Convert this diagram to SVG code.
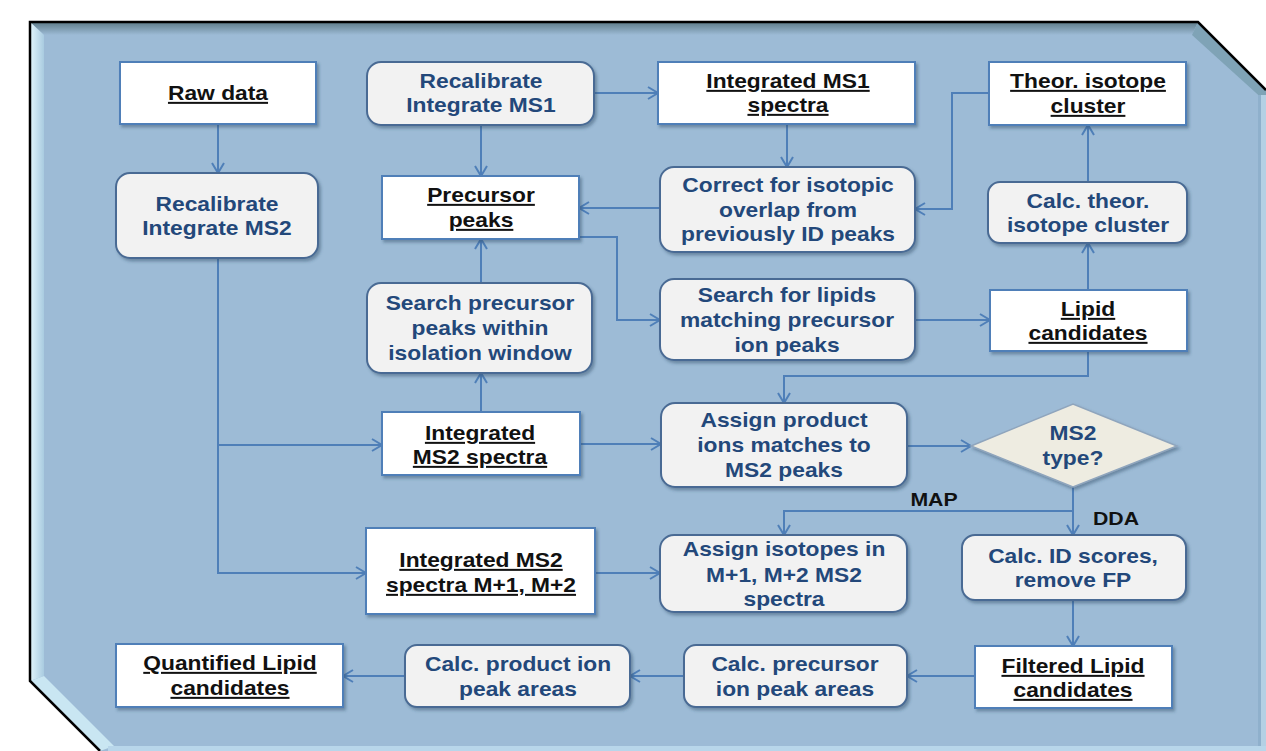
<svg xmlns="http://www.w3.org/2000/svg" width="1266" height="751" viewBox="0 0 1266 751">
<style>
.t{font-family:"Liberation Sans",Arial,sans-serif;font-weight:bold;font-size:20px;text-anchor:middle}
.b{fill:#23487a}
.k{fill:#111}
.u{text-decoration:underline}
.rr{fill:#f2f2f2;stroke:#4a6b94;stroke-width:2}
.wr{fill:#ffffff;stroke:#4f7fb8;stroke-width:2}
.c{fill:none;stroke:#4f7fb8;stroke-width:2}
</style>
<defs>
<marker id="ah" markerUnits="userSpaceOnUse" markerWidth="14" markerHeight="14" refX="11" refY="7" orient="auto">
<path d="M1,1 L11,7 L1,13" fill="none" stroke="#4f7fb8" stroke-width="2"/>
</marker>
<filter id="sh" x="-10%" y="-10%" width="125%" height="130%">
<feDropShadow dx="2" dy="2.5" stdDeviation="1.5" flood-color="#2e4a66" flood-opacity="0.45"/>
</filter>
<linearGradient id="gt" x1="0" y1="0" x2="0" y2="1">
<stop offset="0" stop-color="#5d7b88"/><stop offset="1" stop-color="#9dbbd6"/>
</linearGradient>
<linearGradient id="gl" x1="0" y1="0" x2="1" y2="0">
<stop offset="0" stop-color="#e2f6fc"/><stop offset="1" stop-color="#a9cbe0"/>
</linearGradient>
</defs>
<rect width="1266" height="751" fill="#ffffff"/>
<g id="panel">
<path d="M30,22 L1198,22 L1266,90 L1266,751 L100,751 L30,681 Z" fill="#9dbbd6"/>
<path d="M30,22 L1198,22 L1192,35 L44,35 Z" fill="url(#gt)"/>
<path d="M1198,22 L1266,90 L1266,102 L1192,35 Z" fill="#7fa3b6"/>
<path d="M30,22 L44,35 L44,676 L30,681 Z" fill="url(#gl)"/>
<path d="M30,681 L44,676 L114,746 L100,751 Z" fill="#c9e6f2"/>
<rect x="1258" y="95" width="3" height="656" fill="#8fb0cc"/>
<rect x="1261" y="95" width="5" height="656" fill="#b4d0e4"/>
<rect x="108" y="746" width="1158" height="5" fill="#b8d6ea"/>
<path d="M1266,90 L1198,22 L30,22 L30,681 L100,751" fill="none" stroke="#000" stroke-width="2.5"/>
</g>
<g id="connectors">
<path class="c" d="M218,124 V173" marker-end="url(#ah)"/>
<path class="c" d="M218,258 V573 H366" marker-end="url(#ah)"/>
<path class="c" d="M218,445 H382" marker-end="url(#ah)"/>
<path class="c" d="M594,93 H658" marker-end="url(#ah)"/>
<path class="c" d="M481,125 V176" marker-end="url(#ah)"/>
<path class="c" d="M787,124 V167" marker-end="url(#ah)"/>
<path class="c" d="M989,93 H952 V209 H915" marker-end="url(#ah)"/>
<path class="c" d="M660,208 H579" marker-end="url(#ah)"/>
<path class="c" d="M579,237 H617 V320 H660" marker-end="url(#ah)"/>
<path class="c" d="M481,283 V239" marker-end="url(#ah)"/>
<path class="c" d="M481,412 V373" marker-end="url(#ah)"/>
<path class="c" d="M915,320 H990" marker-end="url(#ah)"/>
<path class="c" d="M1088,351 V376 H784 V403" marker-end="url(#ah)"/>
<path class="c" d="M1088,290 V243" marker-end="url(#ah)"/>
<path class="c" d="M1088,182 V125" marker-end="url(#ah)"/>
<path class="c" d="M580,444 H661" marker-end="url(#ah)"/>
<path class="c" d="M907,446 H971" marker-end="url(#ah)"/>
<path class="c" d="M1073,487 V535" marker-end="url(#ah)"/>
<path class="c" d="M1073,511 H784 V535" marker-end="url(#ah)"/>
<path class="c" d="M595,573 H660" marker-end="url(#ah)"/>
<path class="c" d="M1073,600 V646" marker-end="url(#ah)"/>
<path class="c" d="M975,676 H907" marker-end="url(#ah)"/>
<path class="c" d="M684,676 H630" marker-end="url(#ah)"/>
<path class="c" d="M405,676 H343" marker-end="url(#ah)"/>
<text class="t k" transform="translate(934,506) scale(1.12,1)" style="font-size:19px">MAP</text>
<text class="t k" transform="translate(1116,525) scale(1.12,1)" style="font-size:19px">DDA</text>
</g>
<g id="raw-data">
<rect class="wr" x="120" y="62" width="196" height="62" filter="url(#sh)"/>
<text class="t k u" transform="translate(218,100) scale(1.14,1)">Raw data</text>
</g>
<g id="recalibrate-ms2">
<rect class="rr" x="116" y="173" width="202" height="85" rx="14" filter="url(#sh)"/>
<text class="t b" transform="translate(217,211) scale(1.14,1)">Recalibrate</text>
<text class="t b" transform="translate(217,235) scale(1.14,1)">Integrate MS2</text>
</g>
<g id="recalibrate-ms1">
<rect class="rr" x="367" y="62" width="227" height="63" rx="14" filter="url(#sh)"/>
<text class="t b" transform="translate(481,88) scale(1.14,1)">Recalibrate</text>
<text class="t b" transform="translate(481,112) scale(1.14,1)">Integrate MS1</text>
</g>
<g id="integrated-ms1">
<rect class="wr" x="658" y="62" width="257" height="62" filter="url(#sh)"/>
<text class="t k u" transform="translate(788,88) scale(1.14,1)">Integrated MS1</text>
<text class="t k u" transform="translate(788,112) scale(1.14,1)">spectra</text>
</g>
<g id="theor-isotope">
<rect class="wr" x="989" y="62" width="197" height="63" filter="url(#sh)"/>
<text class="t k u" transform="translate(1088,88) scale(1.14,1)">Theor. isotope</text>
<text class="t k u" transform="translate(1088,113) scale(1.14,1)">cluster</text>
</g>
<g id="precursor-peaks">
<rect class="wr" x="382" y="176" width="197" height="63" filter="url(#sh)"/>
<text class="t k u" transform="translate(481,202) scale(1.14,1)">Precursor</text>
<text class="t k u" transform="translate(481,227) scale(1.14,1)">peaks</text>
</g>
<g id="correct-overlap">
<rect class="rr" x="660" y="167" width="255" height="85" rx="14" filter="url(#sh)"/>
<text class="t b" transform="translate(788,192) scale(1.14,1)">Correct for isotopic</text>
<text class="t b" transform="translate(788,217) scale(1.14,1)">overlap from</text>
<text class="t b" transform="translate(788,241) scale(1.14,1)">previously ID peaks</text>
</g>
<g id="calc-theor">
<rect class="rr" x="988" y="182" width="199" height="61" rx="12" filter="url(#sh)"/>
<text class="t b" transform="translate(1088,208) scale(1.14,1)">Calc. theor.</text>
<text class="t b" transform="translate(1088,232) scale(1.14,1)">isotope cluster</text>
</g>
<g id="search-precursor">
<rect class="rr" x="367" y="283" width="225" height="90" rx="14" filter="url(#sh)"/>
<text class="t b" transform="translate(480,310) scale(1.14,1)">Search precursor</text>
<text class="t b" transform="translate(480,335) scale(1.14,1)">peaks within</text>
<text class="t b" transform="translate(480,360) scale(1.14,1)">isolation window</text>
</g>
<g id="search-lipids">
<rect class="rr" x="660" y="279" width="255" height="81" rx="14" filter="url(#sh)"/>
<text class="t b" transform="translate(787,302) scale(1.14,1)">Search for lipids</text>
<text class="t b" transform="translate(787,327) scale(1.14,1)">matching precursor</text>
<text class="t b" transform="translate(787,352) scale(1.14,1)">ion peaks</text>
</g>
<g id="lipid-candidates">
<rect class="wr" x="990" y="290" width="197" height="61" filter="url(#sh)"/>
<text class="t k u" transform="translate(1088,316) scale(1.14,1)">Lipid</text>
<text class="t k u" transform="translate(1088,340) scale(1.14,1)">candidates</text>
</g>
<g id="integrated-ms2">
<rect class="wr" x="382" y="412" width="198" height="63" filter="url(#sh)"/>
<text class="t k u" transform="translate(480,440) scale(1.14,1)">Integrated</text>
<text class="t k u" transform="translate(480,464) scale(1.14,1)">MS2 spectra</text>
</g>
<g id="assign-product">
<rect class="rr" x="661" y="403" width="246" height="84" rx="14" filter="url(#sh)"/>
<text class="t b" transform="translate(784,427) scale(1.14,1)">Assign product</text>
<text class="t b" transform="translate(784,452) scale(1.14,1)">ions matches to</text>
<text class="t b" transform="translate(784,477) scale(1.14,1)">MS2 peaks</text>
</g>
<g id="ms2-type">
<polygon points="971,446 1073,404 1177,446 1073,487" fill="#eeece1" stroke="#8fa5bd" stroke-width="1.5" filter="url(#sh)"/>
<text class="t b" transform="translate(1073,440) scale(1.14,1)">MS2</text>
<text class="t b" transform="translate(1073,465) scale(1.14,1)">type?</text>
</g>
<g id="calc-id-scores">
<rect class="rr" x="962" y="535" width="224" height="65" rx="13" filter="url(#sh)"/>
<text class="t b" transform="translate(1073,563) scale(1.14,1)">Calc. ID scores,</text>
<text class="t b" transform="translate(1073,587) scale(1.14,1)">remove FP</text>
</g>
<g id="filtered-lipid">
<rect class="wr" x="975" y="646" width="197" height="62" filter="url(#sh)"/>
<text class="t k u" transform="translate(1073,673) scale(1.14,1)">Filtered Lipid</text>
<text class="t k u" transform="translate(1073,697) scale(1.14,1)">candidates</text>
</g>
<g id="assign-isotopes">
<rect class="rr" x="660" y="535" width="247" height="77" rx="14" filter="url(#sh)"/>
<text class="t b" transform="translate(784,556) scale(1.14,1)">Assign isotopes in</text>
<text class="t b" transform="translate(784,582) scale(1.14,1)">M+1, M+2 MS2</text>
<text class="t b" transform="translate(784,606) scale(1.14,1)">spectra</text>
</g>
<g id="integrated-ms2-m12">
<rect class="wr" x="366" y="528" width="229" height="86" filter="url(#sh)"/>
<text class="t k u" transform="translate(481,567) scale(1.14,1)">Integrated MS2</text>
<text class="t k u" transform="translate(481,592) scale(1.14,1)">spectra M+1, M+2</text>
</g>
<g id="calc-precursor-areas">
<rect class="rr" x="684" y="645" width="223" height="62" rx="12" filter="url(#sh)"/>
<text class="t b" transform="translate(795,671) scale(1.14,1)">Calc. precursor</text>
<text class="t b" transform="translate(795,696) scale(1.14,1)">ion peak areas</text>
</g>
<g id="calc-product-areas">
<rect class="rr" x="405" y="645" width="225" height="62" rx="12" filter="url(#sh)"/>
<text class="t b" transform="translate(518,671) scale(1.14,1)">Calc. product ion</text>
<text class="t b" transform="translate(518,696) scale(1.14,1)">peak areas</text>
</g>
<g id="quantified-lipid">
<rect class="wr" x="116" y="644" width="227" height="63" filter="url(#sh)"/>
<text class="t k u" transform="translate(230,670) scale(1.14,1)">Quantified Lipid</text>
<text class="t k u" transform="translate(230,695) scale(1.14,1)">candidates</text>
</g>
</svg>
